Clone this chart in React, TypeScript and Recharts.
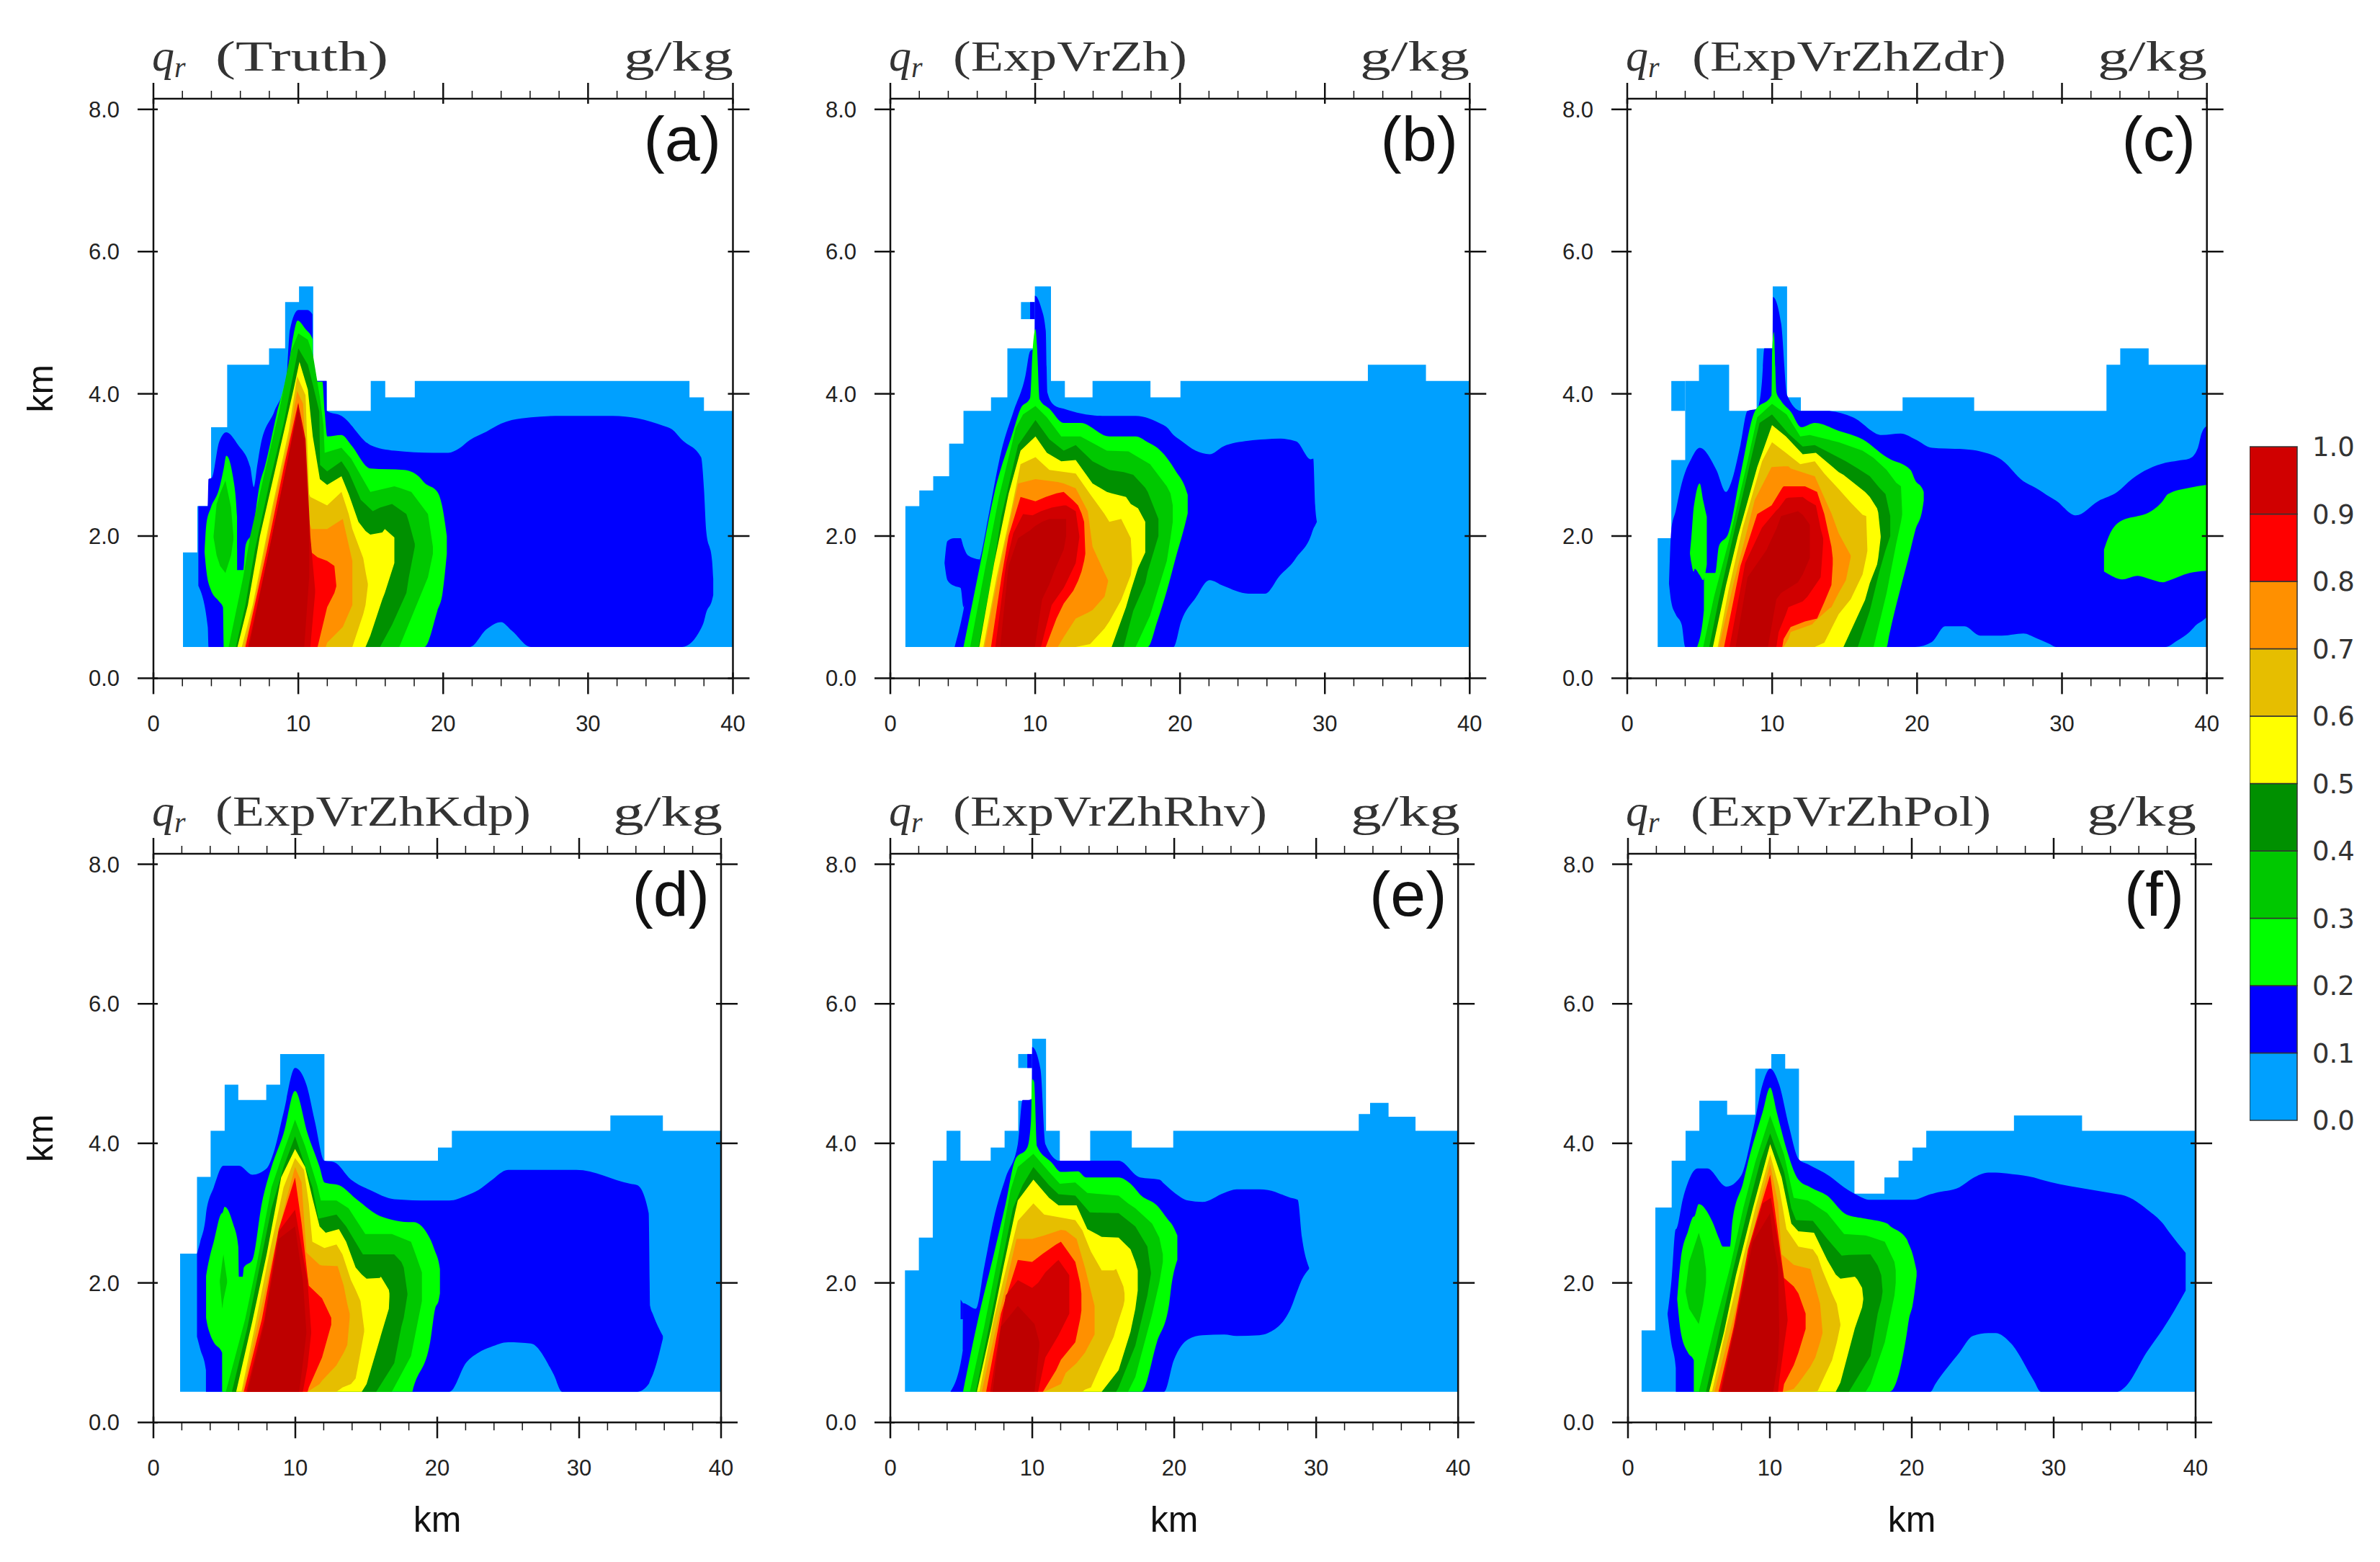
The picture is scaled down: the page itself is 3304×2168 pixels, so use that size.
import React from 'react';
import { AreaChart, Area, BarChart, Bar, XAxis, YAxis } from 'recharts';

type Row = [number, number, number?]; // x km, top km, bottom km (defaults to BASE)
type Band = { lv: number; step?: boolean; rows: Row[] };

const BASE = 0.44;
const Y_TOP = 8.15;

const levelColors = ['#00A0FF', '#0000FF', '#00FF00', '#00C800', '#009000', '#FFFF00', '#E6BE00', '#FF9000', '#FF0000', '#D00000', '#BE0000'];
const barValues = [0.1, 0.1, 0.1, 0.1, 0.1, 0.1, 0.1, 0.1, 0.1, 0.1];
const barTicks = [0, 0.1, 0.2, 0.3, 0.4, 0.5, 0.6, 0.7, 0.8, 0.9, 1];
const xTicks = [0, 2, 4, 6, 8, 10, 12, 14, 16, 18, 20, 22, 24, 26, 28, 30, 32, 34, 36, 38, 40];
const yTicks = [0, 2, 4, 6, 8];

const truthBands: Band[] = [
  { lv: 0, step: true, rows: [[2.04, 1.77], [3.03, 2.42], [3.98, 3.53], [5.09, 4.41], [7.98, 4.64], [9.09, 5.29], [10.05, 5.51], [11.03, 4.18], [11.96, 3.76], [15, 4.18], [16, 3.95], [18.04, 4.18], [37, 3.95], [38, 3.76], [40, 3.76]] },
  { lv: 1, rows: [[3.1, 2.42, 1.3], [3.75, 2.42, 0.72], [3.8, 2.8], [4.03, 2.82], [4.53, 3.32], [5.03, 3.46], [5.85, 3.28], [6.68, 2.97], [6.93, 2.69], [7.17, 3.0], [7.4, 3.28], [8.34, 3.75], [9.17, 4.21], [9.42, 4.9], [10, 5.18], [10.6, 5.18], [10.97, 5.12], [11.02, 4.18], [11.95, 4.18], [11.97, 3.76], [12.98, 3.69], [14.97, 3.28], [16.65, 3.2], [19.3, 3.17], [20.35, 3.17], [21.09, 3.23], [21.84, 3.35], [23, 3.47, 0.69], [23.99, 3.58, 0.79], [24.73, 3.63, 0.67], [26.06, 3.67], [28.2, 3.69], [31.7, 3.69], [35.2, 3.55], [35.8, 3.5], [36.5, 3.35], [37.8, 3.11, 0.7], [38, 2.66, 0.8], [38.15, 2.08, 0.92], [38.56, 1.65, 1.1], [38.64, 1.4, 1.17]] },
  { lv: 2, rows: [[3.53, 1.78, 1.77], [3.66, 2.18, 1.5], [3.95, 2.39, 1.25], [4.53, 2.66, 1.08], [4.8, 2.9, 1.0], [4.85, 2.95], [5.03, 3.13], [5.5, 2.82], [5.77, 2.27], [5.78, 1.52], [6.2, 1.52], [6.35, 1.85], [6.85, 2.08], [7.35, 2.74], [7.68, 2.97], [8.5, 3.71], [9.34, 4.41], [9.67, 4.83], [9.95, 5.03], [10.5, 4.91], [11, 4.76], [11.02, 4.17], [11.66, 4.17], [11.82, 3.75], [12, 3.4], [12.98, 3.42], [13.65, 3.28], [14.97, 2.95], [17.3, 2.93], [18.3, 2.84], [18.7, 2.75], [19.6, 2.62, 0.95], [19.95, 2.4, 1.19], [20.25, 2.0, 1.75]] },
  { lv: 3, rows: [[4.15, 2.0, 1.98], [4.36, 2.45, 1.73], [4.6, 2.6, 1.58], [4.97, 2.78, 1.48], [5.36, 2.4, 1.73], [5.52, 2.0, 1.95]] },
  { lv: 3, rows: [[5.19, 0.44], [6.19, 1.42], [6.68, 2.0], [7.68, 2.9], [8.67, 3.75], [9.5, 4.6], [10, 4.85], [10.66, 4.76], [11, 4.56], [11.5, 3.94], [11.74, 3.55], [11.82, 3.17], [12.3, 3.2], [12.98, 3.24], [13.65, 3.09], [14.97, 2.62], [16.63, 2.7], [16.97, 2.68], [17.8, 2.62, 0.85], [18.95, 2.31, 1.42], [19.29, 1.85, 1.75]] },
  { lv: 4, rows: [[5.69, 0.44], [6.35, 1.03], [7.01, 1.81], [8, 2.74], [9, 3.59], [9.67, 4.29], [10, 4.64], [10.66, 4.41], [11, 4.13], [11.45, 3.75], [11.5, 3.0], [11.99, 2.91], [12.98, 3.05], [13.48, 2.9], [14.31, 2.51], [15.14, 2.35], [15.64, 2.4], [16.47, 2.45, 0.75], [17.46, 2.31, 1.2], [17.63, 2.2, 1.42], [18.04, 1.89, 1.85]] },
  { lv: 5, rows: [[5.8, 0.44], [6.52, 1.03], [7.35, 2], [8.67, 3.17], [9.67, 4.06], [10.08, 4.45], [10.66, 4.06], [11, 3.4], [11.49, 2.8], [11.99, 2.72], [12.98, 2.84], [13.48, 2.59], [14.15, 2.2], [14.64, 2.07], [14.97, 2.02, 0.6], [15.8, 2.05, 1.11], [15.97, 2.1, 1.2], [16.63, 1.98, 1.62]] },
  { lv: 6, rows: [[6.1, 0.44], [6.85, 1.03], [8.18, 2.39], [9.34, 3.48], [9.92, 4.25], [10.5, 3.98], [10.75, 2.59], [10.83, 2.55], [11.99, 2.43], [12.98, 2.62], [13.48, 2.31], [13.73, 2.1], [14.48, 1.69, 0.9], [14.64, 1.5, 1.03], [14.8, 1.33, 1.3]] },
  { lv: 7, rows: [[6.27, 0.44], [7.01, 1.11], [8.34, 2.47], [9.34, 3.36], [9.92, 4.04], [10.33, 3.86], [10.75, 2.2], [10.91, 2.1], [11.9, 2.1], [11.99, 2.1, 0.5], [13.07, 2.24, 0.72], [13.73, 1.65, 1.03]] },
  { lv: 8, rows: [[6.35, 0.44], [7.84, 1.81], [9, 2.97], [10, 3.88], [10.75, 2.1], [10.91, 1.77], [11.33, 1.7], [11.99, 1.65, 1.0], [12.49, 1.58, 1.2], [12.62, 1.31, 1.29]] },
  { lv: 9, rows: [[6.52, 0.44], [8, 1.81], [9.17, 2.97], [10, 3.86], [10.5, 3.36], [10.83, 2], [11.16, 1.25, 1.2]] },
  { lv: 10, rows: [[6.6, 0.44], [10, 3.79], [10.33, 3.4], [10.41, 3.36], [10.75, 2.2, 1.42]] },
];

const vrZhBands: Band[] = [
  { lv: 0, step: true, rows: [[1.04, 2.42], [2, 2.64], [2.96, 2.84], [4.06, 3.3], [5.05, 3.76], [6.95, 3.95], [8.08, 4.64], [9.98, 5.51], [11.09, 4.18], [12.05, 3.95], [13.96, 4.18], [17.96, 3.95], [20.03, 4.18], [32.97, 4.41], [36.98, 4.18], [40, 4.18]] },
  { lv: 0, step: true, rows: [[9.02, 5.29, 5.05], [9.98, 5.29, 5.05]] },
  { lv: 1, rows: [[3.74, 1.62, 1.62], [3.94, 1.93, 1.38], [4.4, 1.97, 1.3], [4.85, 1.97, 1.27], [5.05, 1.85, 1.0], [5.35, 1.73, 1.2], [6.18, 1.67, 1.4]] },
  { lv: 1, rows: [[9.65, 5.29, 5.05], [9.97, 5.29, 5.05]] },
  { lv: 1, rows: [[4.44, 0.44], [5.05, 0.96], [5.35, 1.3], [6.18, 1.67], [6.84, 2.35], [7.67, 3.2], [8.5, 3.75], [9.32, 4.25], [9.65, 4.6], [9.97, 4.64], [9.98, 5.38], [10.4, 5.22], [10.73, 4.89], [10.84, 4.02], [11.31, 3.84], [11.97, 3.79], [14.62, 3.69], [16.94, 3.69], [18.76, 3.57], [19.09, 3.53], [19.55, 3.42], [20.08, 3.34, 0.8], [21.08, 3.2, 1.13], [22.04, 3.15, 1.38], [22.98, 3.26, 1.3], [24.72, 3.34, 1.19], [25.88, 3.36, 1.19], [26.88, 3.37, 1.44], [27.87, 3.34, 1.65], [28.04, 3.33, 1.7], [29.03, 3.08, 2.0], [29.2, 3.09, 2.1], [29.33, 2.43, 2.15], [29.45, 2.2, 2.2]] },
  { lv: 2, rows: [[5.05, 0.44], [6.18, 1.58], [7.17, 2.59], [8.49, 3.48], [8.99, 3.79], [9.65, 3.94], [9.82, 4.6], [10.02, 4.91], [10.12, 4.68], [10.31, 3.92], [10.98, 3.79], [11.97, 3.59], [13.13, 3.59], [15.12, 3.4], [16.94, 3.4], [17.77, 3.32], [18.43, 3.24, 0.8], [19.09, 3.1, 1.23], [19.75, 2.9, 1.73], [20.33, 2.7, 2.15], [20.53, 2.58, 2.32]] },
  { lv: 3, rows: [[5.51, 0.44], [6.5, 1.5], [7.5, 2.55], [8.66, 3.52], [9.16, 3.71], [10.02, 3.83], [10.81, 3.67], [11.8, 3.4], [13.13, 3.4], [14.95, 3.2], [16.44, 3.19], [16.94, 3.13], [17.93, 3.01, 0.88], [19.09, 2.7, 1.65], [19.34, 2.6, 1.97], [19.5, 2.43, 2.2]] },
  { lv: 4, rows: [[6.09, 0.44], [7, 1.42], [7.67, 2.28], [8.82, 3.28], [10.02, 3.63], [10.98, 3.36], [11.97, 3.2], [12.8, 3.28], [13.96, 3.05], [15.12, 2.93], [16.11, 2.9], [16.77, 2.86, 0.95], [17.6, 2.68, 1.34], [17.77, 2.62, 1.5], [18.51, 2.24, 2]] },
  { lv: 5, rows: [[6.14, 0.44], [7.17, 1.62], [8.16, 2.59], [8.99, 3.2], [10.02, 3.4], [10.81, 3.17], [11.8, 3.05], [12.8, 3.07], [13.96, 2.74], [14.95, 2.62], [15.28, 2.6], [16.27, 2.55, 1.0], [16.6, 2.45, 1.23], [17.1, 2.39, 1.55], [17.6, 2.2, 1.77]] },
  { lv: 6, rows: [[6.42, 0.44], [7.33, 1.42], [8.33, 2.35], [8.99, 3.01], [10.02, 3.11], [10.98, 2.93], [12.8, 2.88], [13.79, 2.59, 0.48], [14.79, 2.31, 0.7], [15.12, 2.2, 0.8], [15.94, 2.24, 1.1], [16.6, 1.97, 1.45], [16.69, 1.65, 1.6]] },
  { lv: 7, rows: [[6.5, 0.44], [7.5, 1.5], [8.33, 2.28], [8.82, 2.74], [10.02, 2.8], [11.56, 2.76], [11.97, 2.74, 0.58], [12.8, 2.67, 0.84], [13.63, 2.35, 0.92], [13.96, 1.85, 0.96], [14.79, 1.48, 1.15], [15.03, 1.38, 1.36]] },
  { lv: 8, rows: [[6.95, 0.44], [7.67, 1.42], [8.16, 2], [8.99, 2.55], [10.02, 2.49], [10.73, 2.55], [11.47, 2.6, 0.84], [11.97, 2.62, 1.05], [12.63, 2.5, 1.23], [12.96, 2.43, 1.37], [13.2, 2.32, 1.5], [13.38, 2.2, 1.65], [13.46, 1.77, 1.75]] },
  { lv: 9, rows: [[7.25, 0.44], [8, 1.62], [8.49, 2.04], [9.16, 2.31], [9.82, 2.29], [10.4, 2.35], [11.14, 2.4, 1.03], [11.97, 2.43, 1.27], [12.14, 2.43, 1.34], [12.8, 2.35, 1.62], [13.05, 2, 1.98]] },
  { lv: 10, rows: [[7.58, 0.44], [8.16, 1.58], [8.82, 1.97], [9.65, 2.08], [9.98, 2.14], [10.48, 2.2, 1.11], [10.98, 2.24, 1.32], [11.31, 2.24, 1.5], [11.97, 2.24, 1.81], [12.14, 2.24, 2.0]] },
];

const vrZhZdrBands: Band[] = [
  { lv: 0, step: true, rows: [[2.1, 1.97], [3.04, 3.07], [4, 4.18], [4.95, 4.41], [7.03, 3.76], [8.93, 4.64], [10.04, 5.51], [11.03, 3.95], [11.98, 3.76], [19, 3.95], [23.94, 3.76], [33.07, 4.41], [34.02, 4.64], [35.98, 4.41], [40, 4.41]] },
  { lv: 0, step: true, rows: [[3.04, 4.18, 3.76], [4, 4.18, 3.76]] },
  { lv: 1, rows: [[2.88, 1.33, 1.33], [3.04, 2.08, 1.07], [3.34, 2.35, 0.9], [3.76, 2.74, 0.75], [4, 2.9], [4.33, 3.05], [5, 3.24], [6.15, 2.93], [6.82, 2.62], [7.15, 2.74], [7.81, 3.28], [8.3, 3.76], [8.97, 3.79], [9.3, 4.18], [9.46, 4.64], [10.04, 4.64], [10.05, 5.36], [10.62, 4.99], [11.03, 3.98], [11.98, 3.76], [13.76, 3.76], [15.58, 3.67], [17.57, 3.42], [18.87, 3.44], [19.87, 3.36], [21.03, 3.24, 0.51], [21.94, 3.23, 0.73], [23.27, 3.22, 0.73], [24.35, 3.19, 0.6], [25.85, 3.07, 0.6], [27.34, 2.77, 0.63], [28.17, 2.68, 0.57], [29.17, 2.55, 0.48], [29.58, 2.5], [30.96, 2.29], [32.49, 2.49], [33.82, 2.62], [34.82, 2.8], [37.14, 3.03], [37.97, 3.06, 0.53], [38.8, 3.09, 0.65], [39.38, 3.24, 0.77], [39.63, 3.44, 0.8], [40, 3.55, 0.86]] },
  { lv: 2, rows: [[4.33, 1.77, 1.75], [4.42, 1.97, 1.63], [4.58, 2.39, 1.5], [4.66, 2.5, 1.54], [5, 2.74, 1.45], [5.24, 2.5, 1.38], [5.49, 2.27, 1.6]] },
  { lv: 2, rows: [[4.83, 0.44], [5.29, 0.96], [5.3, 1.48], [6.07, 1.48], [6.32, 1.85], [6.98, 2.04], [7.81, 2.86], [8.8, 3.75], [9.96, 3.98], [10, 4.6], [10.12, 4.87], [10.29, 4.02], [10.62, 3.9], [11.28, 3.75], [12.02, 3.53], [12.94, 3.59], [14.59, 3.48], [16.24, 3.36], [17.9, 3.11], [18.07, 3.09, 0.6], [19.55, 2.93, 1.81], [19.88, 2.78, 2.08], [20.38, 2.66, 2.39], [20.46, 2.62, 2.5]] },
  { lv: 2, rows: [[32.9, 1.81, 1.5], [33.24, 2.0, 1.46], [34.15, 2.22, 1.39], [35.23, 2.28, 1.44], [35.98, 2.33, 1.4], [36.98, 2.5, 1.35], [37.31, 2.59, 1.37], [38.8, 2.68, 1.48], [40, 2.72, 1.51]] },
  { lv: 3, rows: [[5.24, 0.44], [5.99, 1.15], [7.06, 1.97], [8.3, 3.05], [8.97, 3.67], [9.99, 3.86], [11, 3.71], [11.94, 3.4], [12.6, 3.42], [14.59, 3.32], [16.24, 3.2], [17, 3.1], [17.9, 2.93, 1.2], [18.56, 2.75, 1.89], [18.89, 2.7, 2.2], [18.97, 2.35, 2.3]] },
  { lv: 4, rows: [[5.66, 0.44], [6.32, 1.11], [7.31, 2], [8.64, 3.17], [9.13, 3.59], [9.99, 3.71], [11.12, 3.44], [12.11, 3.26], [12.94, 3.28], [15.09, 3.05], [15.91, 2.95], [16.74, 2.84, 0.95], [17.4, 2.68, 1.5], [17.82, 2.59, 1.8], [18.15, 2.28, 2]] },
  { lv: 5, rows: [[5.91, 0.44], [6.82, 1.31], [7.64, 2], [8.97, 2.97], [9.99, 3.56], [10.95, 3.4], [12.11, 3.15], [13.02, 3.17], [14.59, 2.9], [14.92, 2.86], [16.41, 2.62, 1.1], [16.74, 2.55, 1.34], [17.24, 2.39, 1.6], [17.32, 2.33, 1.69], [17.49, 2.0, 1.98]] },
  { lv: 6, rows: [[6.24, 0.44], [6.98, 1.23], [7.97, 2.12], [9.3, 3.05], [9.99, 3.32], [10.95, 3.17], [11.94, 3.01], [12.94, 3.05], [13.6, 2.88, 0.5], [14.59, 2.66, 0.9], [15.42, 2.47, 1.11], [16.24, 2.3, 1.46], [16.49, 2.28, 1.7], [16.57, 1.81, 1.79]] },
  { lv: 7, rows: [[6.32, 0.44], [7.31, 1.31], [8.8, 2.51], [9.96, 2.97], [10.79, 2.98], [11.12, 2.98, 0.55], [11.28, 2.95, 0.65], [12.77, 2.85, 0.76], [12.94, 2.84, 0.8], [13.93, 2.39, 0.98], [14.09, 2.32, 1], [14.59, 2.04, 1.2], [15.09, 1.85, 1.38], [15.42, 1.73, 1.7]] },
  { lv: 8, rows: [[6.68, 0.44], [7.81, 1.58], [8.97, 2.31], [9.96, 2.43], [10.7, 2.68], [10.79, 2.7, 0.55], [11.28, 2.7, 0.72], [12.27, 2.7, 0.8], [13.1, 2.62, 0.84], [13.6, 2.31, 1.07], [14.09, 1.85, 1.31], [14.18, 1.69, 1.6]] },
  { lv: 9, rows: [[7.06, 0.44], [8.14, 1.62], [9.3, 2.12], [10.29, 2.36], [10.45, 2.39, 0.65], [10.95, 2.53, 0.9], [11.12, 2.54, 1], [12.11, 2.55, 1.08], [12.44, 2.5, 1.15], [13.02, 2.43, 1.32], [13.35, 2.1, 1.42], [13.52, 1.97, 1.9]] },
  { lv: 10, rows: [[7.48, 0.44], [8.3, 1.42], [9.63, 1.81], [9.71, 1.85], [10.29, 2.1, 1.11], [10.62, 2.28, 1.2], [11.78, 2.35, 1.35], [12.11, 2.3, 1.46], [12.6, 2.16, 1.69]] },
];

const vrZhKdpBands: Band[] = [
  { lv: 0, step: true, rows: [[1.88, 2.42], [3.07, 3.52], [4.03, 4.18], [5.02, 4.84], [5.98, 4.62], [7.95, 4.84], [8.93, 5.28], [12.05, 3.75], [20.05, 3.94], [21.03, 4.18], [32.2, 4.4], [35.9, 4.18], [40, 4.18]] },
  { lv: 1, rows: [[3.07, 2.42, 1.23], [3.3, 2.59, 1.05], [3.7, 2.98, 0.75], [3.71, 3], [4.25, 3.37], [4.93, 3.68], [6.03, 3.68], [6.97, 3.55], [7.98, 3.64], [8.49, 3.88], [9.17, 4.44], [9.98, 5.08], [10.78, 4.84], [11.37, 4.32], [12.05, 3.75], [12.73, 3.73], [13.92, 3.48], [15.27, 3.33], [16.97, 3.2], [19.5, 3.18], [20.86, 3.18], [22.05, 3.25, 0.86], [22.9, 3.33, 1], [23.75, 3.46, 1.08], [25, 3.62, 1.15], [26.6, 3.62, 1.13], [28.2, 3.62, 0.69], [28.8, 3.62], [29.8, 3.62], [33.6, 3.42], [34.1, 3.4], [34.9, 3.0, 0.55], [35, 1.67, 0.6], [35.2, 1.55, 0.69], [35.9, 1.24, 1.2]] },
  { lv: 2, rows: [[3.71, 2.1, 1.5], [3.75, 2.15, 1.45], [4, 2.4, 1.26], [4.25, 2.59, 1.15], [4.84, 3.0, 1.0], [4.85, 3.0], [5.02, 3.09], [5.61, 2.85], [5.98, 2.52], [6.03, 2.09], [6.29, 2.09], [6.37, 2.22], [6.97, 2.33], [7.64, 3.14], [8.32, 3.66], [9.17, 4.14], [9.98, 4.75], [10.86, 4.14], [11.71, 3.66], [12.05, 3.44], [13.07, 3.4], [14.42, 3.18], [15.95, 2.96], [18.24, 2.87], [18.32, 2.87, 0.5], [19.5, 2.63, 1.15], [19.85, 2.45, 1.63], [20.1, 2.3, 1.75], [20.19, 2.2, 1.85]] },
  { lv: 3, rows: [[4.68, 2.04, 2.0], [4.85, 2.3, 1.63], [4.93, 2.41, 1.75], [5.19, 2.04, 2]] },
  { lv: 3, rows: [[5.1, 0.44], [6.46, 1.48], [7.31, 2.3], [8.32, 3.37], [9.17, 3.88], [9.98, 4.34], [10.69, 3.96], [11.54, 3.4], [11.8, 3.18], [12.9, 3.18], [13.75, 3.07], [14.93, 2.7], [16.8, 2.7], [18.15, 2.59, 0.95], [18.49, 2.4, 1.3], [18.92, 2.15, 1.74]] },
  { lv: 4, rows: [[5.53, 0.44], [6.63, 1.37], [7.47, 2.22], [8.32, 3.07], [9.17, 3.66], [9.98, 4.1], [10.53, 3.77], [11.2, 3.37], [11.63, 2.92], [12.9, 2.98], [13.58, 2.81], [14.76, 2.41], [15.7, 2.41], [16.97, 2.41, 0.85], [17.47, 2.3, 1.37], [17.64, 2.22, 1.5], [17.9, 1.85, 1.83]] },
  { lv: 5, rows: [[5.83, 0.44], [6.97, 1.45], [7.98, 2.41], [9, 3.51], [9.98, 3.92], [10.69, 3.66], [11.2, 3.22], [11.71, 2.81], [12.14, 2.72], [13.07, 2.77], [13.58, 2.59], [14.25, 2.22], [14.68, 2.12], [15.02, 2.06, 0.55], [15.95, 2.07, 1.19], [16.03, 2.09, 1.25], [16.59, 1.9, 1.63], [16.63, 1.85, 1.8]] },
  { lv: 6, rows: [[6.2, 0.44], [7.14, 1.37], [8.15, 2.41], [9.17, 3.37], [9.98, 3.79], [10.61, 3.62], [10.95, 3.14], [11.2, 2.59], [12.05, 2.5], [12.9, 2.55], [13.32, 2.41, 0.5], [13.92, 2.04, 0.55], [14.25, 1.9, 0.63], [14.59, 1.74, 1.0], [14.85, 1.34, 1.3]] },
  { lv: 7, rows: [[6.29, 0.44], [7.31, 1.37], [8.32, 2.3], [9.34, 3.18], [9.98, 3.66], [10.44, 3.44], [10.78, 2.44], [10.86, 2.42], [11.71, 2.26, 0.55], [11.88, 2.25, 0.6], [12.9, 2.24, 0.82], [12.98, 2.24, 0.85], [13.41, 1.96, 1], [13.66, 1.7, 1.11], [13.83, 1.56, 1.5]] },
  { lv: 8, rows: [[6.37, 0.44], [7.64, 1.48], [8.83, 2.77], [9.98, 3.51], [10.44, 2.85], [10.86, 2.1], [10.95, 1.96, 0.5], [11.88, 1.78, 0.93], [12.53, 1.5, 1.4]] },
  { lv: 9, rows: [[6.54, 0.44], [7.81, 1.48], [8.83, 2.74], [9.98, 3.05], [10.53, 2.4], [10.86, 2.04, 0.8], [11.12, 1.3, 1.28]] },
  { lv: 10, rows: [[6.63, 0.44], [7.81, 1.41], [8.83, 2.63], [9.98, 2.81], [10.27, 2.4], [10.53, 2.04, 0.85], [10.78, 1.3, 1.28]] },
];

const vrZhRhvBands: Band[] = [
  { lv: 0, step: true, rows: [[1.03, 2.18], [2.01, 2.65], [2.99, 3.75], [3.96, 4.18], [4.94, 3.75], [7.07, 3.94], [8.05, 4.18], [9.01, 4.61], [9.99, 5.5], [10.97, 4.18], [11.94, 3.75], [14.08, 4.18], [17.01, 3.94], [19.93, 4.18], [33, 4.42], [33.8, 4.58], [35.1, 4.38], [37, 4.18], [40, 4.18]] },
  { lv: 0, step: true, rows: [[9.01, 5.28, 5.08], [9.99, 5.28, 5.08]] },
  { lv: 1, rows: [[9.65, 5.28, 5.08], [9.98, 5.28, 5.08]] },
  { lv: 1, rows: [[4.95, 1.76, 1.48], [5.12, 1.71, 1.48]] },
  { lv: 1, rows: [[4.24, 0.44], [5.11, 1.04], [5.12, 1.71], [6.02, 1.63], [6.61, 2.22], [7.29, 2.92], [8.13, 3.51], [8.98, 3.99], [9.32, 4.62], [9.65, 4.62], [9.98, 4.64], [9.99, 5.38], [10.58, 5.06], [10.92, 3.99], [11.94, 3.75], [16.08, 3.75], [17.6, 3.51], [18.95, 3.48], [19.29, 3.42], [19.97, 3.3, 0.89], [20.98, 3.18, 1.19], [21.99, 3.16, 1.25], [23.52, 3.29, 1.26], [24.4, 3.34, 1.24], [26, 3.34, 1.25], [26.6, 3.33, 1.28], [28.2, 3.22, 1.63], [28.7, 3.19, 1.9], [29, 2.65, 2.05], [29.5, 2.22, 2.2]] },
  { lv: 2, rows: [[5.12, 0.44], [6.27, 1.56], [7.29, 2.41], [8.13, 3.14], [8.81, 3.77], [9.65, 3.94], [9.91, 4.32], [9.99, 4.92], [10.13, 4.88], [10.33, 3.96], [11.34, 3.73], [12.02, 3.59], [13.2, 3.6], [13.8, 3.51], [16.08, 3.51], [16.92, 3.42], [17.68, 3.25], [18.78, 3.11, 1.15], [19.63, 2.89, 1.68], [19.8, 2.85, 1.96], [20.22, 2.68, 2.33]] },
  { lv: 3, rows: [[5.6, 0.44], [6.61, 1.37], [7.62, 2.41], [8.47, 3.33], [8.98, 3.66], [10.08, 3.85], [11.18, 3.59], [11.94, 3.42], [13.03, 3.44], [13.88, 3.29], [16.08, 3.25], [16.75, 3.14], [17.26, 3.07, 0.65], [18.44, 2.85, 1.55], [18.95, 2.65, 2], [19.2, 2.41, 2.3]] },
  { lv: 4, rows: [[6.02, 0.44], [6.95, 1.37], [7.79, 2.22], [8.64, 3.07], [9.32, 3.4], [10.08, 3.66], [11.18, 3.4], [11.85, 3.27], [13.03, 3.25], [14.05, 3.01], [15.91, 3], [16.08, 3, 0.5], [17.26, 2.81, 1.1], [18.11, 2.52, 1.82], [18.36, 2.15, 2.13]] },
  { lv: 5, rows: [[6.1, 0.44], [7.12, 1.37], [7.96, 2.22], [8.81, 3.03], [8.98, 3.18], [10.08, 3.48], [11.18, 3.22], [11.85, 3.11], [13.12, 3.11], [13.88, 2.77], [14.89, 2.66], [16.08, 2.65, 0.75], [16.92, 2.48, 1.3], [17.26, 2.3, 1.63], [17.43, 2.18, 1.89]] },
  { lv: 6, rows: [[6.27, 0.44], [7.29, 1.48], [8.3, 2.33], [8.98, 2.89], [10.08, 3.14], [10.84, 2.98], [13.03, 2.9], [13.54, 2.75], [13.71, 2.66, 0.47], [14.13, 2.45, 0.5], [14.89, 2.18, 0.85], [15.74, 2.18, 1.23], [15.91, 2.2, 1.35], [16.42, 1.95, 1.67], [16.5, 1.85, 1.75]] },
  { lv: 7, rows: [[6.44, 0.44], [7.79, 1.67], [8.89, 2.63], [9.99, 2.63], [10.84, 2.68], [12.02, 2.76, 0.55], [12.36, 2.75, 0.71], [13.12, 2.63, 0.85], [13.71, 2.22, 1.0], [14.39, 1.67, 1.26]] },
  { lv: 8, rows: [[6.75, 0.44], [7.79, 1.56], [8.98, 2.33], [9.99, 2.3], [10.75, 2.42], [11.68, 2.55, 0.75], [12.02, 2.59, 0.9], [13.03, 2.3, 1.15], [13.37, 2, 1.48], [13.46, 1.85, 1.6]] },
  { lv: 9, rows: [[7.03, 0.44], [8.13, 1.82], [8.98, 2.04], [9.99, 1.93], [10.41, 2.0], [10.92, 2.15, 0.93], [11.68, 2.3, 1.19], [11.85, 2.33, 1.25], [12.61, 2.11, 1.56]] },
  { lv: 10, rows: [[7.2, 0.44], [7.79, 1.37], [8.98, 1.67], [10.16, 1.41], [10.5, 1.15, 1.1]] },
];

const vrZhPolBands: Band[] = [
  { lv: 0, step: true, rows: [[0.96, 1.32], [1.93, 3.08], [3.08, 3.75], [4.06, 4.18], [5.03, 4.61], [6.99, 4.41], [8.97, 5.07], [10.1, 5.28], [11.08, 5.07], [12.05, 3.75], [15.96, 3.28], [18.07, 3.51], [19.07, 3.75], [20.05, 3.94], [21.02, 4.18], [27.2, 4.4], [32, 4.18], [40, 4.18]] },
  { lv: 1, rows: [[2.79, 1.56, 1.55], [3.05, 2.0, 1.15], [3.37, 2.77, 0.78], [3.38, 2.77], [3.89, 3.22], [4.91, 3.64], [5.58, 3.64], [6.94, 3.38], [7.95, 3.53], [8.8, 4.18], [9.48, 4.84], [10.02, 5.07], [10.66, 4.84], [11.34, 4.25], [12.05, 3.77], [12.69, 3.7], [14.21, 3.53], [15.23, 3.37], [15.96, 3.28], [17.09, 3.19], [20.05, 3.19], [21.32, 3.27], [21.66, 3.29, 0.55], [23.35, 3.37, 1], [24.3, 3.5, 1.24], [25.4, 3.58, 1.28], [25.9, 3.58, 1.28], [27, 3.56, 1.13], [28.6, 3.51, 0.6], [29.1, 3.48], [34.5, 3.27], [35, 3.25, 0.5], [36.6, 3.05, 1.02], [37.7, 2.85, 1.34], [38.2, 2.71, 1.5], [39.3, 2.43, 1.89]] },
  { lv: 2, rows: [[3.47, 1.78, 1.76], [3.72, 2.33, 1.3], [4.23, 2.74, 1.0], [4.64, 2.95, 0.89], [4.65, 2.95], [4.99, 3.13], [5.92, 2.89], [6.43, 2.63], [6.68, 2.52], [7.19, 2.52], [7.36, 2.89], [8.12, 3.44], [8.46, 3.73], [9.48, 4.44], [10.02, 4.8], [10.49, 4.44], [11.17, 3.92], [12.01, 3.48], [12.86, 3.37], [14.04, 3.25], [15.4, 2.98], [16.75, 2.92], [18.27, 2.85], [18.44, 2.82], [19.63, 2.63, 1.25], [19.8, 2.55, 1.48], [20.05, 2.42, 1.67], [20.34, 2.17, 2.1]] },
  { lv: 3, rows: [[4.06, 1.89, 1.87], [4.23, 2.18, 1.7], [4.31, 2.3, 1.63], [4.99, 2.72, 1.41], [5.3, 2.5, 1.7], [5.5, 2.2, 2.0]] },
  { lv: 3, rows: [[4.99, 0.44], [6.09, 1.37], [7.19, 2.22], [8.12, 3.07], [8.97, 3.73], [10.02, 4.4], [11, 3.84], [11.68, 3.22], [12.69, 3.18], [14.04, 3], [15.23, 2.7], [16.75, 2.68], [17.09, 2.66, 0.55], [18.1, 2.59, 1.15], [18.78, 2.3, 1.82], [18.87, 2.18, 2.0]] },
  { lv: 4, rows: [[5.5, 0.44], [6.43, 1.3], [7.45, 2.22], [8.46, 3.07], [9.31, 3.73], [10.02, 4.14], [11, 3.59], [11.51, 3.07], [11.84, 2.9], [13.03, 2.89], [14.04, 2.63], [15.06, 2.39], [15.57, 2.4], [17.09, 2.41, 0.95], [17.6, 2.25, 1.56], [17.85, 2.11, 1.75], [17.94, 1.89, 1.87]] },
  { lv: 5, rows: [[5.72, 0.44], [6.77, 1.3], [7.61, 2.11], [8.8, 3.07], [10.02, 3.99], [10.83, 3.51], [11.51, 2.85], [12.01, 2.74], [13.11, 2.72], [14.04, 2.33], [14.64, 2.12], [14.97, 2.06, 0.57], [15.99, 2.09, 1.35], [16.16, 2.05, 1.45], [16.5, 1.93, 1.65], [16.58, 1.78, 1.76]] },
  { lv: 6, rows: [[5.92, 0.44], [6.94, 1.37], [7.95, 2.22], [8.97, 3.07], [10.02, 3.84], [10.66, 3.37], [11.17, 2.77], [12.01, 2.52], [13.03, 2.48], [13.37, 2.38, 0.45], [13.71, 2.18, 0.6], [14.38, 1.85, 0.89], [14.72, 1.7, 1.15], [14.97, 1.41, 1.39]] },
  { lv: 7, rows: [[6.09, 0.44], [7.28, 1.37], [8.29, 2.22], [9.14, 3.03], [10.02, 3.7], [10.58, 3.14], [10.83, 2.41], [11, 2.38], [11.68, 2.26, 0.48], [12.01, 2.24, 0.56], [12.86, 2.2, 0.8], [13.2, 1.95, 0.93], [13.54, 1.7, 1.15], [13.71, 1.3, 1.28]] },
  { lv: 8, rows: [[6.38, 0.44], [7.45, 1.37], [8.46, 2.48], [9.31, 3.07], [10.02, 3.55], [10.58, 2.7], [10.91, 2.2], [11, 2.07, 0.55], [11.68, 1.95, 0.82], [12.01, 1.85, 1.0], [12.52, 1.56, 1.34]] },
  { lv: 9, rows: [[6.51, 0.44], [7.61, 1.48], [8.63, 2.55], [9.48, 3.14], [10.07, 3.22], [10.58, 2.6], [10.66, 2.48, 0.6], [11, 2.04, 1.1], [11.25, 1.48, 1.46]] },
  { lv: 10, rows: [[6.6, 0.44], [7.78, 1.59], [8.8, 2.59], [10.02, 3], [10.24, 2.6], [10.58, 2.22, 0.9], [10.66, 1.3, 1.28]] },
];

// layout of the six panels, in page pixels
const AXIS_LEFT = 200;
const AXIS_RIGHT = 40;
const AXIS_TOP = 40;
const panels = [
  { name: '(Truth)', letter: '(a)', bands: truthBands, left: 212.5, right: 1017, top: 137, bottom: 941.4, qX: 211, nameX: 299, nameW: 240, unitX: 866, xLabel: false, yLabel: true },
  { name: '(ExpVrZh)', letter: '(b)', bands: vrZhBands, left: 1235.7, right: 2040, top: 137, bottom: 941.4, qX: 1234, nameX: 1323, nameW: 325, unitX: 1888, xLabel: false, yLabel: false },
  { name: '(ExpVrZhZdr)', letter: '(c)', bands: vrZhZdrBands, left: 2259.3, right: 3064, top: 137, bottom: 941.4, qX: 2257, nameX: 2349, nameW: 436, unitX: 2912, xLabel: false, yLabel: false },
  { name: '(ExpVrZhKdp)', letter: '(d)', bands: vrZhKdpBands, left: 213, right: 1001, top: 1185, bottom: 1974.3, qX: 211, nameX: 299, nameW: 438, unitX: 851, xLabel: true, yLabel: true },
  { name: '(ExpVrZhRhv)', letter: '(e)', bands: vrZhRhvBands, left: 1236.3, right: 2024.5, top: 1185, bottom: 1974.3, qX: 1234, nameX: 1323, nameW: 436, unitX: 1875, xLabel: true, yLabel: false },
  { name: '(ExpVrZhPol)', letter: '(f)', bands: vrZhPolBands, left: 2260, right: 3048, top: 1185, bottom: 1974.3, qX: 2257, nameX: 2347, nameW: 417, unitX: 2897, xLabel: true, yLabel: false },
];

const SANS = 'Liberation Sans';
const SERIF = 'Liberation Serif';
const INK = '#111';

function buildTable(bands: Band[]) {
  const byX = new Map<number, any>();
  bands.forEach((band, i) => {
    band.rows.forEach(([x, hi, lo = BASE]) => {
      const row = byX.get(x) ?? { x };
      row[`s${i}`] = [lo, hi];
      byX.set(x, row);
    });
  });
  return [...byX.values()].sort((a, b) => a.x - b.x);
}

const BottomTick = ({ x, y, payload }: any) => {
  const major = payload.value % 10 === 0;
  return (
    <g>
      <line x1={x} x2={x} y1={major ? y - 8 : y} y2={major ? y + 22 : y + 11} stroke={INK} strokeWidth={major ? 2.5 : 1.5} />
      {major && (
        <text x={x} y={y + 74} textAnchor="middle" fontFamily={SANS} fontSize={31} fill="#222">
          {payload.value}
        </text>
      )}
    </g>
  );
};

const TopTick = ({ x, y, payload }: any) => {
  const major = payload.value % 10 === 0;
  return <line x1={x} x2={x} y1={major ? y - 22 : y - 11} y2={major ? y + 7 : y} stroke={INK} strokeWidth={major ? 2.5 : 1.5} />;
};

const LeftTick = ({ x, y, payload }: any) => (
  <g>
    <line x1={x - 22} x2={x + 6} y1={y} y2={y} stroke={INK} strokeWidth={2.5} />
    <text x={x - 47} y={y + 11} textAnchor="end" fontFamily={SANS} fontSize={31} fill="#222">
      {payload.value.toFixed(1)}
    </text>
  </g>
);

const RightTick = ({ x, y }: any) => <line x1={x - 7} x2={x + 23} y1={y} y2={y} stroke={INK} strokeWidth={2.5} />;

function Panel({ panel }: { panel: (typeof panels)[number] }) {
  const plotW = panel.right - panel.left;
  const plotH = panel.bottom - panel.top;
  const axisBottom = 190;
  const table = buildTable(panel.bands);
  const axisLine = { stroke: INK, strokeWidth: 2.5 };
  return (
    <div style={{ position: 'absolute', left: panel.left - AXIS_LEFT, top: panel.top - AXIS_TOP }}>
      <AreaChart width={AXIS_LEFT + plotW + AXIS_RIGHT} height={AXIS_TOP + plotH + axisBottom} data={table} margin={{ top: 0, right: 0, bottom: 0, left: 0 }}>
        <XAxis
          dataKey="x"
          type="number"
          domain={[0, 40]}
          ticks={xTicks}
          interval={0}
          allowDataOverflow
          height={axisBottom}
          tickSize={0}
          tickMargin={0}
          tickLine={false}
          axisLine={axisLine}
          tick={(p: any) => <BottomTick {...p} />}
          label={panel.xLabel ? { value: 'km', position: 'insideBottom', offset: 38, style: { fontFamily: SANS, fontSize: 50, fill: '#111' } } : undefined}
        />
        <XAxis xAxisId="top" orientation="top" dataKey="x" type="number" domain={[0, 40]} ticks={xTicks} interval={0} allowDataOverflow height={AXIS_TOP} tickSize={0} tickMargin={0} tickLine={false} axisLine={axisLine} tick={(p: any) => <TopTick {...p} />} />
        <YAxis
          type="number"
          domain={[0, Y_TOP]}
          ticks={yTicks}
          interval={0}
          allowDataOverflow
          width={AXIS_LEFT}
          tickSize={0}
          tickMargin={0}
          tickLine={false}
          axisLine={axisLine}
          tick={(p: any) => <LeftTick {...p} />}
          label={panel.yLabel ? { value: 'km', angle: -90, position: 'insideLeft', offset: 42, style: { fontFamily: SANS, fontSize: 50, fill: '#111', textAnchor: 'middle' } } : undefined}
        />
        <YAxis yAxisId="right" orientation="right" type="number" domain={[0, Y_TOP]} ticks={yTicks} interval={0} allowDataOverflow width={AXIS_RIGHT} tickSize={0} tickMargin={0} tickLine={false} axisLine={axisLine} tick={(p: any) => <RightTick {...p} />} />
        {panel.bands.map((band, i) => (
          <Area
            key={i}
            dataKey={`s${i}`}
            type={band.step ? 'stepAfter' : band.lv <= 2 ? 'monotoneX' : 'linear'}
            connectNulls
            fill={levelColors[band.lv]}
            fillOpacity={1}
            stroke="none"
            dot={false}
            activeDot={false}
            isAnimationActive={false}
          />
        ))}
      </AreaChart>
    </div>
  );
}

function PanelText({ panel }: { panel: (typeof panels)[number] }) {
  const baseline = panel.top - 39;
  return (
    <g fill="#333">
      <text x={panel.qX} y={baseline} fontFamily={SERIF} fontStyle="italic" fontSize={62}>q</text>
      <text x={panel.qX + 31} y={baseline + 9} fontFamily={SERIF} fontStyle="italic" fontSize={40}>r</text>
      <text x={panel.nameX} y={baseline} fontFamily={SERIF} fontSize={60} textLength={panel.nameW} lengthAdjust="spacingAndGlyphs">{panel.name}</text>
      <text x={panel.unitX} y={baseline} fontFamily={SERIF} fontSize={60} textLength={152} lengthAdjust="spacingAndGlyphs">g/kg</text>
      <text x={panel.right - 16} y={panel.top + 86} textAnchor="end" fontFamily={SANS} fontSize={88} fill="#111">{panel.letter}</text>
    </g>
  );
}

const barData = [Object.fromEntries(barValues.map((v, i) => [`b${i}`, v]))];

function ColorBar() {
  const pad = 24;
  return (
    <div style={{ position: 'absolute', left: 3123, top: 620 - pad }}>
      <BarChart width={181} height={935 + pad * 2} data={barData} barCategoryGap={0} margin={{ top: pad, right: 0, bottom: pad, left: 0 }}>
        <XAxis hide />
        <YAxis
          orientation="right"
          type="number"
          domain={[0, 1]}
          ticks={barTicks}
          interval={0}
          width={115}
          axisLine={false}
          tickLine={false}
          tickSize={0}
          tickMargin={21}
          tickFormatter={(v: number) => v.toFixed(1)}
          tick={{ fontFamily: 'DejaVu Sans', fontSize: 37, fill: '#333' }}
        />
        {barValues.map((_, i) => (
          <Bar key={i} dataKey={`b${i}`} stackId="bar" fill={levelColors[i]} stroke="#333" strokeWidth={1.5} isAnimationActive={false} />
        ))}
      </BarChart>
    </div>
  );
}

export default function App() {
  return (
    <div style={{ position: 'absolute', left: 0, top: 0, width: 3304, height: 2168, background: '#fff', overflow: 'hidden' }}>
      {panels.map((panel) => (
        <Panel key={panel.letter} panel={panel} />
      ))}
      <ColorBar />
      <svg width={3304} height={2168} style={{ position: 'absolute', left: 0, top: 0, pointerEvents: 'none' }}>
        {panels.map((panel) => (
          <PanelText key={panel.letter} panel={panel} />
        ))}
      </svg>
    </div>
  );
}
